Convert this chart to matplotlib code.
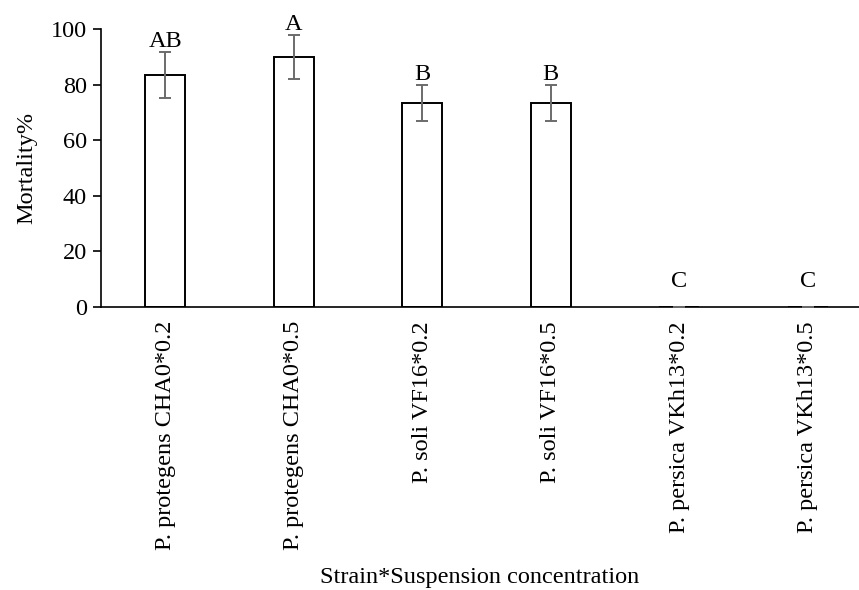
import matplotlib
matplotlib.use("Agg")
import matplotlib.pyplot as plt
import numpy as np

categories = ["P. protegens CHA0*0.2", "P. protegens CHA0*0.5", "P. soli VF16*0.2",
              "P. soli VF16*0.5", "P. persica VKh13*0.2", "P. persica VKh13*0.5"]
mortality = [83.33, 90.0, 73.33, 73.33, 0.0, 0.0]
errors = [8.3, 8.0, 6.5, 6.5, 0.0, 0.0]
letters = ["AB", "A", "B", "B", "C", "C"]

plt.rcParams['font.family'] = ['Liberation Serif', 'DejaVu Serif']
FS = 17.5

fig = plt.figure(figsize=(8.59, 5.90), dpi=100)
W, H = 859, 590
ax = fig.add_axes([101 / W, (H - 307) / H, (859 - 101) / W, (307 - 29) / H])

x = np.arange(len(categories))
ax.bar(x, mortality, width=0.31, color='white', edgecolor='black', linewidth=1.4, zorder=2)
ax.errorbar(x, mortality, yerr=errors, fmt='none', ecolor='#6b6b6b',
            elinewidth=1.4, capsize=4.5, capthick=1.4, zorder=3)
for xi, v, e, l in zip(x, mortality, errors, letters):
    y = v + e if e > 0 else v + 5.5
    ax.text(xi, y, l, ha='center', va='bottom', fontsize=FS, color='black')

ax.set_xlim(-0.5, (859 - 101) / 128.5 - 0.5)
ax.set_ylim(0, 100)
ax.set_yticks([0, 20, 40, 60, 80, 100])
ax.set_xticks(x)
ax.set_xticklabels(categories, rotation=90, fontsize=FS)
ax.tick_params(axis='x', length=0, pad=10)
ax.tick_params(axis='y', length=6, width=1.2, labelsize=FS, pad=4)
for s in ['top', 'right']:
    ax.spines[s].set_visible(False)
for s in ['left', 'bottom']:
    ax.spines[s].set_linewidth(1.2)
ax.set_ylabel("Mortality%", fontsize=FS, labelpad=10)
ax.set_xlabel("Strain*Suspension concentration", fontsize=FS, labelpad=12)

fig.savefig("out.png", dpi=100)
